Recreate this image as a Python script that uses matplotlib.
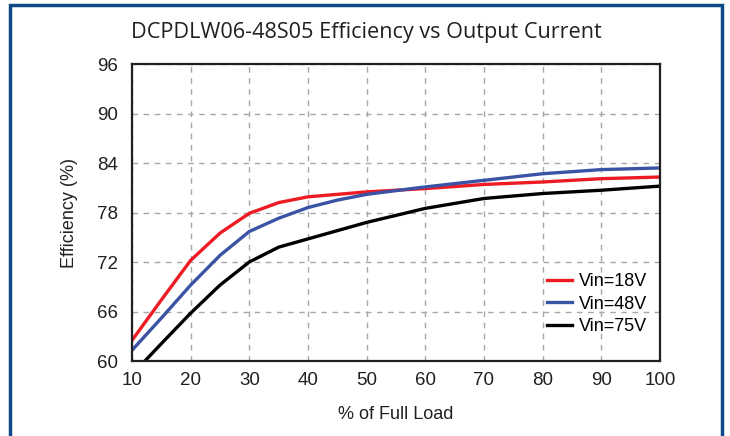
import matplotlib

matplotlib.use("Agg")
import matplotlib.pyplot as plt
from matplotlib.patches import Rectangle

# readings (% of full load -> efficiency %)
load = [10, 15, 20, 25, 30, 35, 40, 45, 50, 60, 70, 80, 90, 100]
eff_18v = [62.5, 67.4, 72.2, 75.5, 77.9, 79.2, 79.9, 80.2, 80.5, 80.9, 81.4, 81.7, 82.1, 82.3]
eff_48v = [61.3, 65.2, 69.2, 72.8, 75.7, 77.3, 78.6, 79.5, 80.2, 81.1, 81.9, 82.7, 83.2, 83.4]
load_75v = [12.2, 15, 20, 25, 30, 35, 40, 45, 50, 60, 70, 80, 90, 100]
eff_75v = [60.0, 62.1, 65.8, 69.2, 72.0, 73.8, 74.8, 75.8, 76.8, 78.5, 79.7, 80.3, 80.7, 81.2]

x_ticks = [10, 20, 30, 40, 50, 60, 70, 80, 90, 100]
y_ticks = [60, 66, 72, 78, 84, 90, 96]

plt.rcParams["font.family"] = ["Liberation Sans", "DejaVu Sans"]

fig = plt.figure(figsize=(7.30, 4.36), dpi=100)
fig.patch.set_facecolor("white")
ax = fig.add_axes([0.1808, 0.172, 0.7232, 0.6812])

# blue outer frame, bottom edge runs off the picture
fig.patches.append(
    Rectangle((10 / 730, -0.05), 712 / 730, 1.05 - 5 / 436, transform=fig.transFigure,
              fill=False, edgecolor="#0b4a86", linewidth=2.5, clip_on=False)
)

ax.plot(load, eff_18v, color="#ed1c24", linewidth=2.4, label="Vin=18V", solid_joinstyle="round")
ax.plot(load, eff_48v, color="#3a53a4", linewidth=2.4, label="Vin=48V", solid_joinstyle="round")
ax.plot(load_75v, eff_75v, color="#000000", linewidth=2.4, label="Vin=75V", solid_joinstyle="round")

ax.set_xlim(10, 100)
ax.set_ylim(60, 96)
ax.set_xticks(x_ticks)
ax.set_yticks(y_ticks)
ax.tick_params(length=0, labelsize=13.5, colors="#231f20")
ax.tick_params(axis="y", pad=10)
ax.tick_params(axis="x", pad=8)
ax.grid(True, color="#a7a7a7", linestyle=(0, (4, 4)), linewidth=1.0)
for spine in ax.spines.values():
    spine.set_linewidth(1.6)
    spine.set_color("#231f20")

ax.set_xlabel("% of Full Load", fontsize=13, color="#231f20", labelpad=12)
ax.set_ylabel("Efficiency (%)", fontsize=13, color="#231f20", labelpad=14)
fig.text(0.502, 0.925, "DCPDLW06-48S05 Efficiency vs Output Current", ha="center", va="center",
         fontsize=15.6, color="#231f20", family=["Open Sans", "DejaVu Sans"])

ax.legend(loc="lower right", bbox_to_anchor=(1.0, 0.045), frameon=False, fontsize=13,
          handlelength=1.35, handletextpad=0.4, labelspacing=0.3, borderaxespad=0.3)

fig.savefig("out.png", dpi=100)
plt.close(fig)
